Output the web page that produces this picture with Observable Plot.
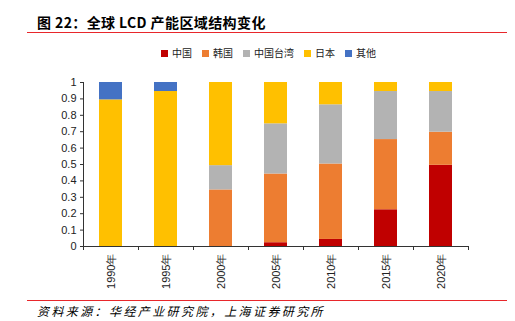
<!DOCTYPE html>
<html><head><meta charset="utf-8">
<script src="https://cdn.jsdelivr.net/npm/d3@7"></script>
<script src="https://cdn.jsdelivr.net/npm/@observablehq/plot@0.6"></script>
<style>
html,body{margin:0;padding:0;background:#fff;}
#wrap{position:relative;width:515px;height:321px;overflow:hidden;font-family:"Noto Sans CJK SC","Noto Sans",sans-serif;}
#title{position:absolute;left:37px;top:12px;font-size:14px;font-weight:bold;color:#000;letter-spacing:0.4px;white-space:nowrap;line-height:20px;}
.redline{position:absolute;left:27px;width:480px;height:1px;background:#e8272b;}
#legend{position:absolute;left:161px;top:46px;display:flex;gap:10px;font-size:10px;color:#222;line-height:14px;white-space:nowrap;}
#legend .it{display:flex;align-items:center;}
#legend .sw{width:7px;height:7px;margin-right:4px;}
#chart{position:absolute;left:0;top:70px;}
#source{position:absolute;left:37px;top:303px;font-size:12px;font-style:italic;letter-spacing:2.4px;color:#000;white-space:nowrap;line-height:16px;}
</style></head>
<body><div id="wrap">
<div id="title">图 22：全球 LCD 产能区域结构变化</div>
<div class="redline" style="top:32px"></div>
<div id="legend"></div>
<div id="chart"></div>
<div class="redline" style="top:300px"></div>
<div id="source">资料来源：华经产业研究院，上海证券研究所</div>
</div>
<script>
const years = ["1990年","1995年","2000年","2005年","2010年","2015年","2020年"];
const series = ["中国","韩国","中国台湾","日本","其他"];
const colors = ["#C00000","#ED7D31","#B3B3B3","#FFC000","#4472C4"];
const china  = [0, 0, 0, 0.023, 0.043, 0.224, 0.495];
const korea  = [0, 0, 0.345, 0.419, 0.46, 0.428, 0.202];
const taiwan = [0, 0, 0.148, 0.306, 0.361, 0.293, 0.248];
const japan  = [0.894, 0.945, 0.507, 0.252, 0.136, 0.055, 0.055];
const other  = [0.106, 0.055, 0, 0, 0, 0, 0];
const yTicks = [0,0.1,0.2,0.3,0.4,0.5,0.6,0.7,0.8,0.9,1];

const valuesBySeries = [china, korea, taiwan, japan, other];
const data = series.flatMap((s, si) => years.map((y, i) => ({year: y, series: s, value: valuesBySeries[si][i]})));

// legend
const lg = document.getElementById("legend");
series.forEach((s, i) => {
  const it = document.createElement("div"); it.className = "it";
  const sw = document.createElement("div"); sw.className = "sw"; sw.style.background = colors[i];
  const tx = document.createElement("span"); tx.textContent = s;
  it.appendChild(sw); it.appendChild(tx); lg.appendChild(it);
});

const W = 515, mL = 83, mR = 47;
const step = (W - mL - mR) / years.length;
const axisColor = "#333";

const chart = Plot.plot({
  width: W,
  height: 220,
  marginLeft: mL,
  marginRight: mR,
  marginTop: 12,
  marginBottom: 44,
  style: {fontFamily: "'Liberation Sans', Arial, sans-serif", fontSize: "11px", color: "#222", background: "#fff"},
  x: {type: "band", domain: years, paddingInner: 0.576, paddingOuter: 0.288, label: null},
  y: {domain: [0, 1], label: null},
  color: {domain: series, range: colors},
  marks: [
    Plot.barY(data, {x: "year", y: "value", fill: "series", order: series}),
    Plot.axisY({ticks: yTicks, tickSize: 3, tickPadding: 4, tickFormat: d => String(+d.toFixed(1)), stroke: axisColor, label: null}),
    Plot.axisX({tickSize: 0, tickPadding: 7, tickRotate: -90, label: null}),
    Plot.ruleY([0], {stroke: axisColor}),
    Plot.ruleX([years[0]], {dx: -step / 2, y1: 0, y2: 1, stroke: axisColor}),
    Plot.ruleX(years, {dx: -step / 2, y1: 0, y2: 0, insetBottom: -4, stroke: axisColor}),
    Plot.ruleX([years[years.length - 1]], {dx: step / 2, y1: 0, y2: 0, insetBottom: -4, stroke: axisColor})
  ]
});
document.getElementById("chart").appendChild(chart);
</script>
</body></html>
